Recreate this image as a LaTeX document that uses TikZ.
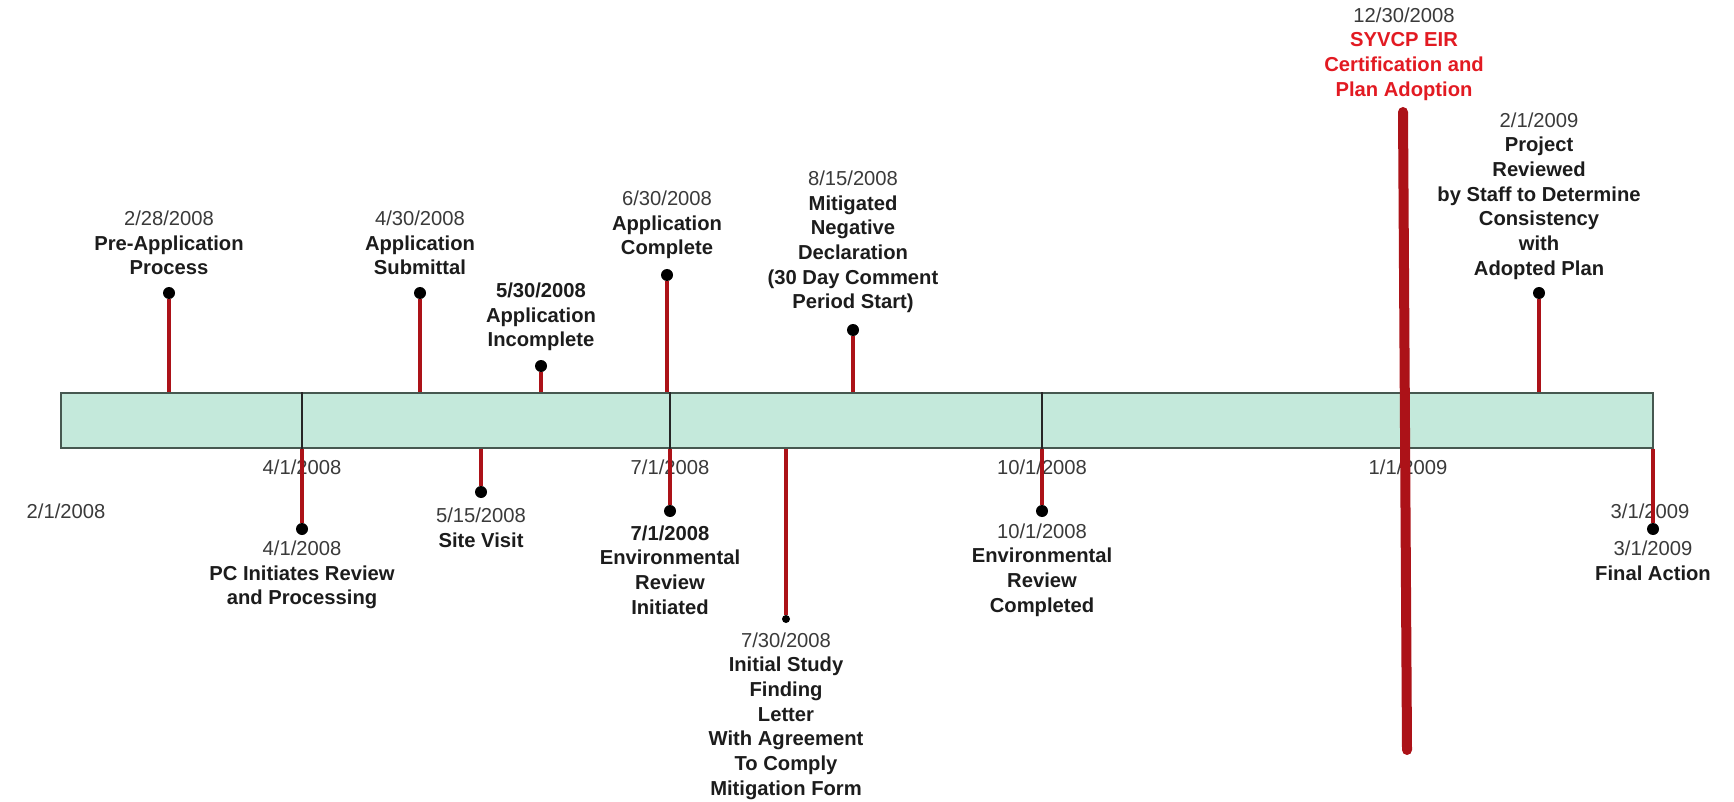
\documentclass[tikz,border=0pt]{standalone}
\usepackage{fontspec}
\setmainfont{Liberation Sans}
\definecolor{stemred}{RGB}{172,18,24}
\definecolor{hired}{RGB}{226,26,34}
\definecolor{datec}{RGB}{58,58,58}
\definecolor{labc}{RGB}{28,28,28}
\definecolor{barfill}{RGB}{196,233,219}
\definecolor{barline}{RGB}{70,88,80}
\tikzset{
  lbl/.style={align=center, inner sep=0pt, text=labc, font={\fontsize{10.1}{12.35}\selectfont\bfseries}},
  axl/.style={inner sep=0pt, text=datec, font={\fontsize{10.1}{12.35}\selectfont}},
  stem/.style={draw=stemred, line width=2.4pt},
  bigstem/.style={draw=stemred, line width=5pt, line cap=round},
  dotn/.style={circle, fill=black, inner sep=0pt, minimum size=6pt},
  smalldot/.style={circle, fill=black, inner sep=0pt, minimum size=4pt},
  barbox/.style={draw=barline, fill=barfill, line width=0.7pt, inner sep=0pt, minimum width=796pt, minimum height=27.5pt},
  divider/.style={draw=black!85, line width=0.6pt}
}
\newcommand{\dt}[1]{{\mdseries\color{datec}#1}}
\begin{document}
\begin{tikzpicture}[x=0.5pt,y=-0.5pt]
\useasboundingbox (0,0) rectangle (1734,802);
% bar
\node[barbox] (bar) at (857,420.5) {};
% axis labels
\node[axl] (t1) at (302,467) {4/1/2008};
\node[axl] (t2) at (670,467) {7/1/2008};
\node[axl] (t3) at (1042,467) {10/1/2008};
\node[axl] (t4) at (1408,467) {1/1/2009};
\node[axl] (t0) at (66,511) {2/1/2008};
\node[axl] (t5) at (1650,511) {3/1/2009};
% dividers
\foreach \t in {t1,t2,t3,t4} \draw[divider] (\t |- bar.north) -- (\t |- bar.south);

% ---- above events ----
\node[lbl] (l1) at (169,243) {\dt{2/28/2008}\\Pre-Application\\Process};
\node[dotn] (d1) at (169,293) {};
\draw[stem] (d1.south) -- (d1.south |- bar.north);

\node[lbl] (l2) at (420,243) {\dt{4/30/2008}\\Application\\Submittal};
\node[dotn] (d2) at (420,293) {};
\draw[stem] (d2.south) -- (d2.south |- bar.north);

\node[lbl] (l3) at (541,317) {5/30/2008\\Application\\Incomplete};
\node[dotn] (d3) at (541,366) {};
\draw[stem] (d3.south) -- (d3.south |- bar.north);

\node[lbl] (l4) at (667,225) {\dt{6/30/2008}\\Application\\Complete};
\node[dotn] (d4) at (667,275) {};
\draw[stem] (d4.south) -- (d4.south |- bar.north);

\node[lbl] (l5) at (853,242) {\dt{8/15/2008}\\Mitigated\\Negative\\Declaration\\(30 Day Comment\\Period Start)};
\node[dotn] (d5) at (853,330) {};
\draw[stem] (d5.south) -- (d5.south |- bar.north);

\node[lbl] (l7) at (1539,196) {\dt{2/1/2009}\\Project\\Reviewed\\by Staff to Determine\\Consistency\\with\\Adopted Plan};
\node[dotn] (d7) at (1539,293) {};
\draw[stem] (d7.south) -- (d7.south |- bar.north);

% ---- below events ----
\node[dotn] (d8) at (302,529) {};
\draw[stem] (d8.north |- bar.south) -- (d8.north);
\node[lbl] (l8) at (302,575) {\dt{4/1/2008}\\PC Initiates Review\\and Processing};

\node[dotn] (d9) at (481,492) {};
\draw[stem] (d9.north |- bar.south) -- (d9.north);
\node[lbl] (l9) at (481,528) {\dt{5/15/2008}\\Site Visit};

\node[dotn] (d10) at (670,511) {};
\draw[stem] (d10.north |- bar.south) -- (d10.north);
\node[lbl] (l10) at (670,570) {7/1/2008\\Environmental\\Review\\Initiated};

\node[smalldot] (d11) at (786,619) {};
\draw[stem] (d11.north |- bar.south) -- (d11.north);
\node[lbl] (l11) at (786,716) {\dt{7/30/2008}\\Initial Study\\Finding\\Letter\\With Agreement\\To Comply\\Mitigation Form};

\node[dotn] (d12) at (1042,511) {};
\draw[stem] (d12.north |- bar.south) -- (d12.north);
\node[lbl] (l12) at (1042,570) {\dt{10/1/2008}\\Environmental\\Review\\Completed};

\node[dotn] (d13) at (1653,529) {};
\draw[stem] (d13.north |- bar.south) -- (d13.north);
\node[lbl] (l13) at (1653,561) {\dt{3/1/2009}\\Final Action};

% ---- SYVCP big event ----
\node[lbl, text=hired] (l6) at (1404,54) {\dt{12/30/2008}\\SYVCP EIR\\Certification and\\Plan Adoption};
\coordinate (s6t) at (1403,112);
\coordinate (s6b) at (1407,750);
\draw[bigstem] (s6t) -- (s6b);
\end{tikzpicture}
\end{document}
